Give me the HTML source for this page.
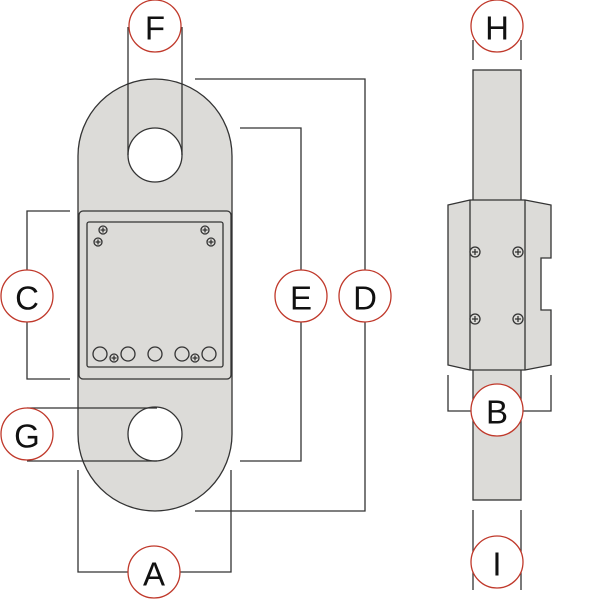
<!DOCTYPE html><html><head><style>body{margin:0;background:#fff}svg{display:block}text{font-family:"Liberation Sans",sans-serif;font-size:33px;fill:#111;text-anchor:middle;dominant-baseline:central}</style></head><body>
<svg width="600" height="600" viewBox="0 0 600 600">
<g stroke="#333" stroke-width="1.3" fill="none">
<path d="M78 156 A77 77 0 0 1 232 156 L232 434 A77 77 0 0 1 78 434 Z" fill="#dcdbd8"/>
<circle cx="155" cy="155" r="27" fill="#fff"/>
<circle cx="155" cy="434" r="27" fill="#fff"/>
<rect x="79" y="211" width="152" height="168" rx="4" fill="#dcdbd8"/>
<rect x="87" y="222" width="136" height="145" rx="2"/>
<g fill="#dcdbd8">
<circle cx="103" cy="230" r="4"/><circle cx="98" cy="242" r="4"/><circle cx="205" cy="230" r="4"/><circle cx="211" cy="242" r="4"/>
<circle cx="100" cy="354" r="7"/><circle cx="128" cy="354" r="7"/><circle cx="155" cy="354" r="7"/><circle cx="182" cy="354" r="7"/><circle cx="209" cy="354" r="7"/>
<circle cx="114" cy="358" r="4"/><circle cx="195" cy="358" r="4"/>
</g>
<path d="M103 227.5v5M100.5 230h5M98 239.5v5M95.5 242h5M205 227.5v5M202.5 230h5M211 239.5v5M208.5 242h5M114 355.5v5M111.5 358h5M195 355.5v5M192.5 358h5"/>
<rect x="473" y="70" width="48" height="430" fill="#dcdbd8"/>
<path d="M448 205 L470 200 L525 200 L551 205 L551 258 L541 258 L541 310 L551 310 L551 365 L525 370 L470 370 L448 365 Z" fill="#dcdbd8"/>
<path d="M470 200V370M525 200V370"/>
<g fill="#dcdbd8"><circle cx="475" cy="252" r="5"/><circle cx="518" cy="252" r="5"/><circle cx="475" cy="319" r="5"/><circle cx="518" cy="319" r="5"/></g>
<path d="M475 249v6M472 252h6M518 249v6M515 252h6M475 316v6M472 319h6M518 316v6M515 319h6"/>
<path d="M128 27V155M182 27V155M473 40V60M521 40V60"/>
<path d="M70 211H27V379H70"/>
<path d="M240 128H301V461H240"/>
<path d="M195 79H365V511H195"/>
<path d="M27 408H157M27 461H157"/>
<path d="M78 470V572H231V470"/>
<path d="M448 375V411H551V375"/>
<path d="M473 510V590M521 510V590"/>
</g>
<g stroke="#c0392b" stroke-width="1.3" fill="#fff">
<circle cx="155" cy="26" r="26"/><circle cx="497" cy="26" r="26"/><circle cx="27" cy="296" r="26"/><circle cx="301" cy="296" r="26"/><circle cx="365" cy="296" r="26"/><circle cx="27" cy="434" r="26"/><circle cx="497" cy="410" r="26"/><circle cx="154" cy="572" r="26"/><circle cx="497" cy="562" r="26"/>
</g>
<text x="155" y="28">F</text><text x="497" y="28">H</text><text x="27" y="298">C</text><text x="301" y="298">E</text><text x="365" y="298">D</text><text x="27" y="436">G</text><text x="497" y="412">B</text><text x="154" y="574">A</text><text x="497" y="564">I</text>
</svg></body></html>
